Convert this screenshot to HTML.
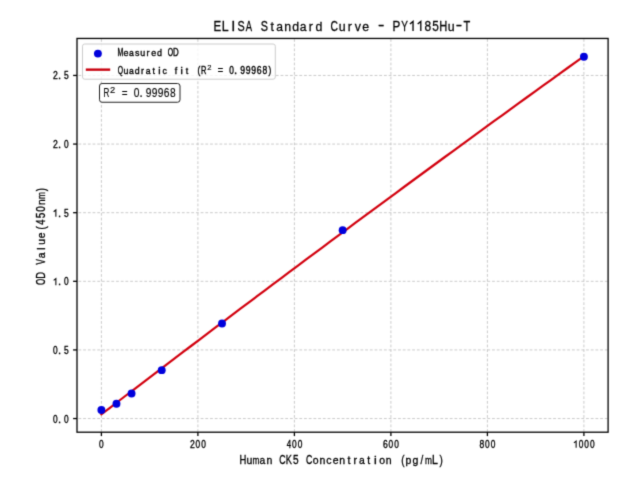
<!DOCTYPE html><html><head><meta charset="utf-8"><style>html,body{margin:0;padding:0;background:#fff;overflow:hidden}svg{display:block}text{font-family:"Liberation Sans",sans-serif;fill:#000}</style></head><body>
<svg width="640" height="480" viewBox="0 0 640 480">
<filter id="bl" x="0" y="0" width="640" height="480" filterUnits="userSpaceOnUse" color-interpolation-filters="sRGB"><feConvolveMatrix order="3" kernelMatrix="0.0192 0.1001 0.0192 0.1001 0.5228 0.1001 0.0192 0.1001 0.0192" edgeMode="duplicate"/></filter><g filter="url(#bl)">
<rect x="0" y="0" width="640" height="480" fill="#fff"/>
<g stroke="#c0c0c0" stroke-width="0.85" stroke-dasharray="2.8 1.9"><line x1="101.40" y1="432.20" x2="101.40" y2="38.45" stroke-dashoffset="-0.25"/><line x1="197.90" y1="432.20" x2="197.90" y2="38.45" stroke-dashoffset="-0.25"/><line x1="294.40" y1="432.20" x2="294.40" y2="38.45" stroke-dashoffset="-0.25"/><line x1="390.90" y1="432.20" x2="390.90" y2="38.45" stroke-dashoffset="-0.25"/><line x1="487.40" y1="432.20" x2="487.40" y2="38.45" stroke-dashoffset="-0.25"/><line x1="583.90" y1="432.20" x2="583.90" y2="38.45" stroke-dashoffset="-0.25"/><line x1="77.00" y1="418.55" x2="608.10" y2="418.55" stroke-dashoffset="-1.45"/><line x1="77.00" y1="349.93" x2="608.10" y2="349.93" stroke-dashoffset="-1.45"/><line x1="77.00" y1="281.31" x2="608.10" y2="281.31" stroke-dashoffset="-1.45"/><line x1="77.00" y1="212.69" x2="608.10" y2="212.69" stroke-dashoffset="-1.45"/><line x1="77.00" y1="144.07" x2="608.10" y2="144.07" stroke-dashoffset="-1.45"/><line x1="77.00" y1="75.45" x2="608.10" y2="75.45" stroke-dashoffset="-1.45"/></g>
<polyline points="101.40,414.27 109.58,408.01 117.76,401.75 125.93,395.50 134.11,389.26 142.29,383.02 150.47,376.79 158.65,370.57 166.82,364.35 175.00,358.14 183.18,351.94 191.36,345.75 199.54,339.56 207.71,333.37 215.89,327.20 224.07,321.03 232.25,314.87 240.43,308.71 248.60,302.56 256.78,296.42 264.96,290.28 273.14,284.15 281.32,278.03 289.49,271.92 297.67,265.81 305.85,259.71 314.03,253.61 322.21,247.52 330.38,241.44 338.56,235.37 346.74,229.30 354.92,223.24 363.09,217.18 371.27,211.14 379.45,205.09 387.63,199.06 395.81,193.03 403.98,187.01 412.16,181.00 420.34,174.99 428.52,168.99 436.70,163.00 444.87,157.01 453.05,151.03 461.23,145.05 469.41,139.09 477.59,133.13 485.76,127.17 493.94,121.23 502.12,115.29 510.30,109.35 518.48,103.43 526.65,97.51 534.83,91.60 543.01,85.69 551.19,79.79 559.37,73.90 567.54,68.01 575.72,62.13 583.90,56.26" fill="none" stroke="#d2000e" stroke-width="2.2" stroke-linecap="square"/>
<circle cx="101.40" cy="409.95" r="3.95" fill="#0000dc"/>
<circle cx="116.48" cy="403.73" r="3.95" fill="#0000dc"/>
<circle cx="131.56" cy="393.44" r="3.95" fill="#0000dc"/>
<circle cx="161.71" cy="370.16" r="3.95" fill="#0000dc"/>
<circle cx="222.03" cy="323.47" r="3.95" fill="#0000dc"/>
<circle cx="342.65" cy="230.17" r="3.95" fill="#0000dc"/>
<circle cx="583.90" cy="56.70" r="3.95" fill="#0000dc"/>
<rect x="77.0" y="38.45" width="531.10" height="393.75" fill="none" stroke="#000" stroke-width="1.3"/>
<g stroke="#000" stroke-width="1.3"><line x1="101.40" y1="432.20" x2="101.40" y2="436.10"/><line x1="197.90" y1="432.20" x2="197.90" y2="436.10"/><line x1="294.40" y1="432.20" x2="294.40" y2="436.10"/><line x1="390.90" y1="432.20" x2="390.90" y2="436.10"/><line x1="487.40" y1="432.20" x2="487.40" y2="436.10"/><line x1="583.90" y1="432.20" x2="583.90" y2="436.10"/><line x1="77.00" y1="418.55" x2="73.10" y2="418.55"/><line x1="77.00" y1="349.93" x2="73.10" y2="349.93"/><line x1="77.00" y1="281.31" x2="73.10" y2="281.31"/><line x1="77.00" y1="212.69" x2="73.10" y2="212.69"/><line x1="77.00" y1="144.07" x2="73.10" y2="144.07"/><line x1="77.00" y1="75.45" x2="73.10" y2="75.45"/></g>
<rect x="82.5" y="44.0" width="192.80" height="35.20" rx="2.2" fill="#fff" fill-opacity="0.8" stroke="#cccccc" stroke-width="1"/>
<circle cx="97.9" cy="53.6" r="3.95" fill="#0000dc"/>
<line x1="87" y1="69.65" x2="109" y2="69.65" stroke="#c8000e" stroke-width="2.4" stroke-linecap="square"/>
<rect x="99.5" y="83.5" width="80.50" height="18.75" rx="2.5" fill="#fff" stroke="#222" stroke-width="1"/>
<g style="filter:grayscale(1)" stroke="#000" stroke-width="0.35">
<text transform="translate(101.40 447.80) scale(0.822 1.000)" x="-2.83" font-size="10.17">0</text>
<text transform="translate(192.35 447.80) scale(0.850 1.000)" x="-2.83" font-size="10.17">2</text><text transform="translate(197.90 447.80) scale(0.822 1.000)" x="-2.83" font-size="10.17">0</text><text transform="translate(203.45 447.80) scale(0.822 1.000)" x="-2.83" font-size="10.17">0</text>
<text transform="translate(288.85 447.80) scale(0.779 1.000)" x="-2.80" font-size="10.17">4</text><text transform="translate(294.40 447.80) scale(0.822 1.000)" x="-2.83" font-size="10.17">0</text><text transform="translate(299.95 447.80) scale(0.822 1.000)" x="-2.83" font-size="10.17">0</text>
<text transform="translate(385.35 447.80) scale(0.850 1.000)" x="-2.86" font-size="10.17">6</text><text transform="translate(390.90 447.80) scale(0.822 1.000)" x="-2.83" font-size="10.17">0</text><text transform="translate(396.45 447.80) scale(0.822 1.000)" x="-2.83" font-size="10.17">0</text>
<text transform="translate(481.85 447.80) scale(0.837 1.000)" x="-2.83" font-size="10.17">8</text><text transform="translate(487.40 447.80) scale(0.822 1.000)" x="-2.83" font-size="10.17">0</text><text transform="translate(492.95 447.80) scale(0.822 1.000)" x="-2.83" font-size="10.17">0</text>
<path d="M576.13 447.80V441.12L573.91 442.90" fill="none" stroke-width="1.06" stroke-linejoin="miter"/><text transform="translate(581.12 447.80) scale(0.822 1.000)" x="-2.83" font-size="10.17">0</text><text transform="translate(586.67 447.80) scale(0.822 1.000)" x="-2.83" font-size="10.17">0</text><text transform="translate(592.22 447.80) scale(0.822 1.000)" x="-2.83" font-size="10.17">0</text>
<text transform="translate(55.33 422.50) scale(0.822 1.000)" x="-2.83" font-size="10.17">0</text><text transform="translate(59.54 422.50) scale(1.000 1.000)" x="-1.55" font-size="11.19">.</text><text transform="translate(66.43 422.50) scale(0.822 1.000)" x="-2.83" font-size="10.17">0</text>
<text transform="translate(55.33 353.88) scale(0.822 1.000)" x="-2.83" font-size="10.17">0</text><text transform="translate(59.54 353.88) scale(1.000 1.000)" x="-1.55" font-size="11.19">.</text><text transform="translate(66.43 353.88) scale(0.828 1.000)" x="-2.82" font-size="10.17">5</text>
<path d="M55.88 285.26V278.58L53.66 280.36" fill="none" stroke-width="1.06" stroke-linejoin="miter"/><text transform="translate(59.54 285.26) scale(1.000 1.000)" x="-1.55" font-size="11.19">.</text><text transform="translate(66.43 285.26) scale(0.822 1.000)" x="-2.83" font-size="10.17">0</text>
<path d="M55.88 216.64V209.96L53.66 211.74" fill="none" stroke-width="1.06" stroke-linejoin="miter"/><text transform="translate(59.54 216.64) scale(1.000 1.000)" x="-1.55" font-size="11.19">.</text><text transform="translate(66.43 216.64) scale(0.828 1.000)" x="-2.82" font-size="10.17">5</text>
<text transform="translate(55.33 148.02) scale(0.850 1.000)" x="-2.83" font-size="10.17">2</text><text transform="translate(59.54 148.02) scale(1.000 1.000)" x="-1.55" font-size="11.19">.</text><text transform="translate(66.43 148.02) scale(0.822 1.000)" x="-2.83" font-size="10.17">0</text>
<text transform="translate(55.33 79.40) scale(0.850 1.000)" x="-2.83" font-size="10.17">2</text><text transform="translate(59.54 79.40) scale(1.000 1.000)" x="-1.55" font-size="11.19">.</text><text transform="translate(66.43 79.40) scale(0.828 1.000)" x="-2.82" font-size="10.17">5</text>
<text transform="translate(217.65 31.00) scale(0.790 1.000)" x="-5.13" font-size="14.53" stroke-width="0.3">E</text><text transform="translate(225.44 31.00) scale(0.850 1.000)" x="-4.40" font-size="14.53" stroke-width="0.3">L</text><text transform="translate(233.22 31.00) scale(1.000 1.000)" x="-2.02" font-size="14.53" stroke-width="0.3">I</text><text transform="translate(241.00 31.00) scale(0.744 1.000)" x="-4.84" font-size="14.53" stroke-width="0.3">S</text><text transform="translate(248.79 31.00) scale(0.646 1.000)" x="-4.85" font-size="14.53" stroke-width="0.3">A</text><text transform="translate(264.36 31.00) scale(0.744 1.000)" x="-4.84" font-size="14.53" stroke-width="0.3">S</text><text transform="translate(272.14 31.00) scale(0.850 0.910)" x="-2.08" font-size="14.53" stroke-width="0.3">t</text><text transform="translate(279.92 31.00) scale(0.834 0.910)" x="-4.35" font-size="14.53" stroke-width="0.3">a</text><text transform="translate(287.71 31.00) scale(0.850 0.910)" x="-4.05" font-size="14.53" stroke-width="0.3">n</text><text transform="translate(295.49 31.00) scale(0.850 0.910)" x="-3.88" font-size="14.53" stroke-width="0.3">d</text><text transform="translate(303.28 31.00) scale(0.834 0.910)" x="-4.35" font-size="14.53" stroke-width="0.3">a</text><text transform="translate(311.06 31.00) scale(0.850 0.910)" x="-2.78" font-size="14.53" stroke-width="0.3">r</text><text transform="translate(318.84 31.00) scale(0.850 0.910)" x="-3.88" font-size="14.53" stroke-width="0.3">d</text><text transform="translate(334.41 31.00) scale(0.710 1.000)" x="-5.34" font-size="14.53" stroke-width="0.3">C</text><text transform="translate(342.20 31.00) scale(0.850 0.910)" x="-4.03" font-size="14.53" stroke-width="0.3">u</text><text transform="translate(349.98 31.00) scale(0.850 0.910)" x="-2.78" font-size="14.53" stroke-width="0.3">r</text><text transform="translate(357.76 31.00) scale(0.850 0.910)" x="-3.63" font-size="14.53" stroke-width="0.3">v</text><text transform="translate(365.55 31.00) scale(0.850 0.910)" x="-4.03" font-size="14.53" stroke-width="0.3">e</text><text transform="translate(381.12 30.07) scale(1.316 1.000)" x="-2.42" font-size="14.53" stroke-width="0.3">-</text><text transform="translate(396.68 31.00) scale(0.805 1.000)" x="-5.06" font-size="14.53" stroke-width="0.3">P</text><text transform="translate(404.47 31.00) scale(0.688 1.000)" x="-4.85" font-size="14.53" stroke-width="0.3">Y</text><path d="M413.03 31.00V21.40L409.92 24.00" fill="none" stroke-width="1.32" stroke-linejoin="miter"/><path d="M420.81 31.00V21.40L417.70 24.00" fill="none" stroke-width="1.32" stroke-linejoin="miter"/><text transform="translate(427.82 31.00) scale(0.822 1.000)" x="-4.04" font-size="14.53" stroke-width="0.3">8</text><text transform="translate(435.60 31.00) scale(0.813 1.000)" x="-4.03" font-size="14.53" stroke-width="0.3">5</text><text transform="translate(443.39 31.00) scale(0.767 1.000)" x="-5.25" font-size="14.53" stroke-width="0.3">H</text><text transform="translate(451.17 31.00) scale(0.850 0.910)" x="-4.03" font-size="14.53" stroke-width="0.3">u</text><text transform="translate(458.96 30.07) scale(1.316 1.000)" x="-2.42" font-size="14.53" stroke-width="0.3">-</text><text transform="translate(466.74 31.00) scale(0.758 1.000)" x="-4.44" font-size="14.53" stroke-width="0.3">T</text>
<text transform="translate(242.81 463.70) scale(0.769 1.000)" x="-4.46" font-size="12.35">H</text><text transform="translate(249.44 463.70) scale(0.850 0.910)" x="-3.43" font-size="12.35">u</text><text transform="translate(256.07 463.70) scale(0.674 0.910)" x="-5.15" font-size="12.35">m</text><text transform="translate(262.70 463.70) scale(0.836 0.910)" x="-3.70" font-size="12.35">a</text><text transform="translate(269.33 463.70) scale(0.850 0.910)" x="-3.44" font-size="12.35">n</text><text transform="translate(282.60 463.70) scale(0.712 1.000)" x="-4.54" font-size="12.35">C</text><text transform="translate(289.23 463.70) scale(0.748 1.000)" x="-4.56" font-size="12.35">K</text><text transform="translate(295.86 463.70) scale(0.815 1.000)" x="-3.42" font-size="12.35">5</text><text transform="translate(309.12 463.70) scale(0.712 1.000)" x="-4.54" font-size="12.35">C</text><text transform="translate(315.75 463.70) scale(0.850 0.910)" x="-3.44" font-size="12.35">o</text><text transform="translate(322.38 463.70) scale(0.850 0.910)" x="-3.44" font-size="12.35">n</text><text transform="translate(329.00 463.70) scale(0.850 0.910)" x="-3.19" font-size="12.35">c</text><text transform="translate(335.63 463.70) scale(0.850 0.910)" x="-3.42" font-size="12.35">e</text><text transform="translate(342.26 463.70) scale(0.850 0.910)" x="-3.44" font-size="12.35">n</text><text transform="translate(348.89 463.70) scale(0.850 0.910)" x="-1.76" font-size="12.35">t</text><text transform="translate(355.52 463.70) scale(0.850 0.910)" x="-2.36" font-size="12.35">r</text><text transform="translate(362.15 463.70) scale(0.836 0.910)" x="-3.70" font-size="12.35">a</text><text transform="translate(368.78 463.70) scale(0.850 0.910)" x="-1.76" font-size="12.35">t</text><text transform="translate(375.41 463.70) scale(1.000 0.910)" x="-1.37" font-size="12.35">i</text><text transform="translate(382.04 463.70) scale(0.850 0.910)" x="-3.44" font-size="12.35">o</text><text transform="translate(388.68 463.70) scale(0.850 0.910)" x="-3.44" font-size="12.35">n</text><text transform="translate(403.13 463.70) scale(0.800 1.000)" x="-2.40" font-size="12.35">(</text><text transform="translate(408.56 463.70) scale(0.850 0.910)" x="-3.57" font-size="12.35">p</text><text transform="translate(415.19 463.70) scale(0.850 0.910)" x="-3.30" font-size="12.35">g</text><text transform="translate(421.82 463.70) scale(0.800 1.000)" x="-1.72" font-size="12.35">/</text><text transform="translate(428.45 463.70) scale(0.674 0.910)" x="-5.15" font-size="12.35">m</text><text transform="translate(435.09 463.70) scale(0.850 1.000)" x="-3.74" font-size="12.35">L</text><text transform="translate(440.79 463.70) scale(0.800 1.000)" x="-1.71" font-size="12.35">)</text>
<text transform="translate(120.48 55.60) scale(0.666 1.000)" x="-4.36" font-size="10.47" stroke-width="0.4">M</text><text transform="translate(126.03 55.60) scale(0.850 0.910)" x="-2.90" font-size="10.47" stroke-width="0.4">e</text><text transform="translate(131.57 55.60) scale(0.826 0.910)" x="-3.13" font-size="10.47" stroke-width="0.4">a</text><text transform="translate(137.12 55.60) scale(0.850 0.910)" x="-2.57" font-size="10.47" stroke-width="0.4">s</text><text transform="translate(142.68 55.60) scale(0.850 0.910)" x="-2.90" font-size="10.47" stroke-width="0.4">u</text><text transform="translate(148.22 55.60) scale(0.850 0.910)" x="-2.00" font-size="10.47" stroke-width="0.4">r</text><text transform="translate(153.78 55.60) scale(0.850 0.910)" x="-2.90" font-size="10.47" stroke-width="0.4">e</text><text transform="translate(159.32 55.60) scale(0.850 0.910)" x="-2.79" font-size="10.47" stroke-width="0.4">d</text><text transform="translate(170.43 55.60) scale(0.653 1.000)" x="-4.07" font-size="10.47" stroke-width="0.4">O</text><text transform="translate(175.97 55.60) scale(0.752 1.000)" x="-3.96" font-size="10.47" stroke-width="0.4">D</text>
<text transform="translate(120.48 73.70) scale(0.657 1.000)" x="-4.04" font-size="10.39" stroke-width="0.4">Q</text><text transform="translate(126.03 73.70) scale(0.850 0.910)" x="-2.88" font-size="10.39" stroke-width="0.4">u</text><text transform="translate(131.57 73.70) scale(0.832 0.910)" x="-3.11" font-size="10.39" stroke-width="0.4">a</text><text transform="translate(137.12 73.70) scale(0.850 0.910)" x="-2.77" font-size="10.39" stroke-width="0.4">d</text><text transform="translate(142.68 73.70) scale(0.850 0.910)" x="-1.99" font-size="10.39" stroke-width="0.4">r</text><text transform="translate(148.22 73.70) scale(0.832 0.910)" x="-3.11" font-size="10.39" stroke-width="0.4">a</text><text transform="translate(153.78 73.70) scale(0.850 0.910)" x="-1.48" font-size="10.39" stroke-width="0.4">t</text><text transform="translate(159.32 73.70) scale(1.000 0.910)" x="-1.15" font-size="10.39" stroke-width="0.4">i</text><text transform="translate(164.88 73.70) scale(0.850 0.910)" x="-2.68" font-size="10.39" stroke-width="0.4">c</text><text transform="translate(175.97 73.70) scale(0.850 0.910)" x="-1.53" font-size="10.39" stroke-width="0.4">f</text><text transform="translate(181.53 73.70) scale(1.000 0.910)" x="-1.15" font-size="10.39" stroke-width="0.4">i</text><text transform="translate(187.07 73.70) scale(0.850 0.910)" x="-1.48" font-size="10.39" stroke-width="0.4">t</text><text transform="translate(199.17 73.70) scale(0.800 1.000)" x="-2.02" font-size="10.39" stroke-width="0.4">(</text><text transform="translate(203.72 73.70) scale(0.719 1.000)" x="-3.94" font-size="10.39" stroke-width="0.4">R</text><text transform="translate(209.28 70.00) scale(1.0 1)" x="-2.11" font-size="7.59" stroke-width="0.15">2</text><text transform="translate(220.38 73.70) scale(0.879 1.000)" x="-3.03" font-size="10.39" stroke-width="0.4">=</text><text transform="translate(231.47 73.70) scale(0.804 1.000)" x="-2.89" font-size="10.39" stroke-width="0.4">0</text><text transform="translate(235.69 73.70) scale(1.000 1.000)" x="-1.59" font-size="11.43" stroke-width="0.4">.</text><text transform="translate(242.57 73.70) scale(0.832 1.000)" x="-2.89" font-size="10.39" stroke-width="0.4">9</text><text transform="translate(248.12 73.70) scale(0.832 1.000)" x="-2.89" font-size="10.39" stroke-width="0.4">9</text><text transform="translate(253.68 73.70) scale(0.832 1.000)" x="-2.89" font-size="10.39" stroke-width="0.4">9</text><text transform="translate(259.23 73.70) scale(0.833 1.000)" x="-2.93" font-size="10.39" stroke-width="0.4">6</text><text transform="translate(264.77 73.70) scale(0.820 1.000)" x="-2.89" font-size="10.39" stroke-width="0.4">8</text><text transform="translate(269.55 73.70) scale(0.800 1.000)" x="-1.44" font-size="10.39" stroke-width="0.4">)</text>
<text transform="translate(106.51 97.10) scale(0.676 1.000)" x="-4.54" font-size="11.99" stroke-width="0.15">R</text><text transform="translate(112.53 92.85) scale(1.0 1)" x="-2.59" font-size="9.31" stroke-width="0.15">2</text><text transform="translate(124.57 97.10) scale(0.827 1.000)" x="-3.50" font-size="11.99" stroke-width="0.15">=</text><text transform="translate(136.61 97.10) scale(0.850 1.000)" x="-3.33" font-size="11.99" stroke-width="0.15">0</text><text transform="translate(141.19 97.10) scale(1.000 1.000)" x="-1.83" font-size="13.19" stroke-width="0.15">.</text><text transform="translate(148.65 97.10) scale(0.850 1.000)" x="-3.33" font-size="11.99" stroke-width="0.15">9</text><text transform="translate(154.67 97.10) scale(0.850 1.000)" x="-3.33" font-size="11.99" stroke-width="0.15">9</text><text transform="translate(160.69 97.10) scale(0.850 1.000)" x="-3.33" font-size="11.99" stroke-width="0.15">9</text><text transform="translate(166.71 97.10) scale(0.850 1.000)" x="-3.38" font-size="11.99" stroke-width="0.15">6</text><text transform="translate(172.73 97.10) scale(0.850 1.000)" x="-3.33" font-size="11.99" stroke-width="0.15">8</text>
<g transform="rotate(-90 45.4 235.4)"><text transform="translate(-1.01 235.40) scale(0.676 1.000)" x="-4.69" font-size="12.06">O</text><text transform="translate(5.62 235.40) scale(0.779 1.000)" x="-4.56" font-size="12.06">D</text><text transform="translate(18.88 235.40) scale(0.668 1.000)" x="-4.02" font-size="12.06">V</text><text transform="translate(25.51 235.40) scale(0.850 0.910)" x="-3.61" font-size="12.06">a</text><text transform="translate(32.14 235.40) scale(1.000 0.910)" x="-1.34" font-size="12.06">l</text><text transform="translate(38.77 235.40) scale(0.850 0.910)" x="-3.35" font-size="12.06">u</text><text transform="translate(45.40 235.40) scale(0.850 0.910)" x="-3.34" font-size="12.06">e</text><text transform="translate(53.22 235.40) scale(0.800 1.000)" x="-2.35" font-size="12.06">(</text><text transform="translate(58.66 235.40) scale(0.785 1.000)" x="-3.32" font-size="12.06">4</text><text transform="translate(65.29 235.40) scale(0.834 1.000)" x="-3.34" font-size="12.06">5</text><text transform="translate(71.92 235.40) scale(0.828 1.000)" x="-3.35" font-size="12.06">0</text><text transform="translate(78.55 235.40) scale(0.850 0.910)" x="-3.36" font-size="12.06">n</text><text transform="translate(85.18 235.40) scale(0.690 0.910)" x="-5.03" font-size="12.06">m</text><text transform="translate(90.88 235.40) scale(0.800 1.000)" x="-1.67" font-size="12.06">)</text></g>
</g>
</g>
</svg></body></html>
